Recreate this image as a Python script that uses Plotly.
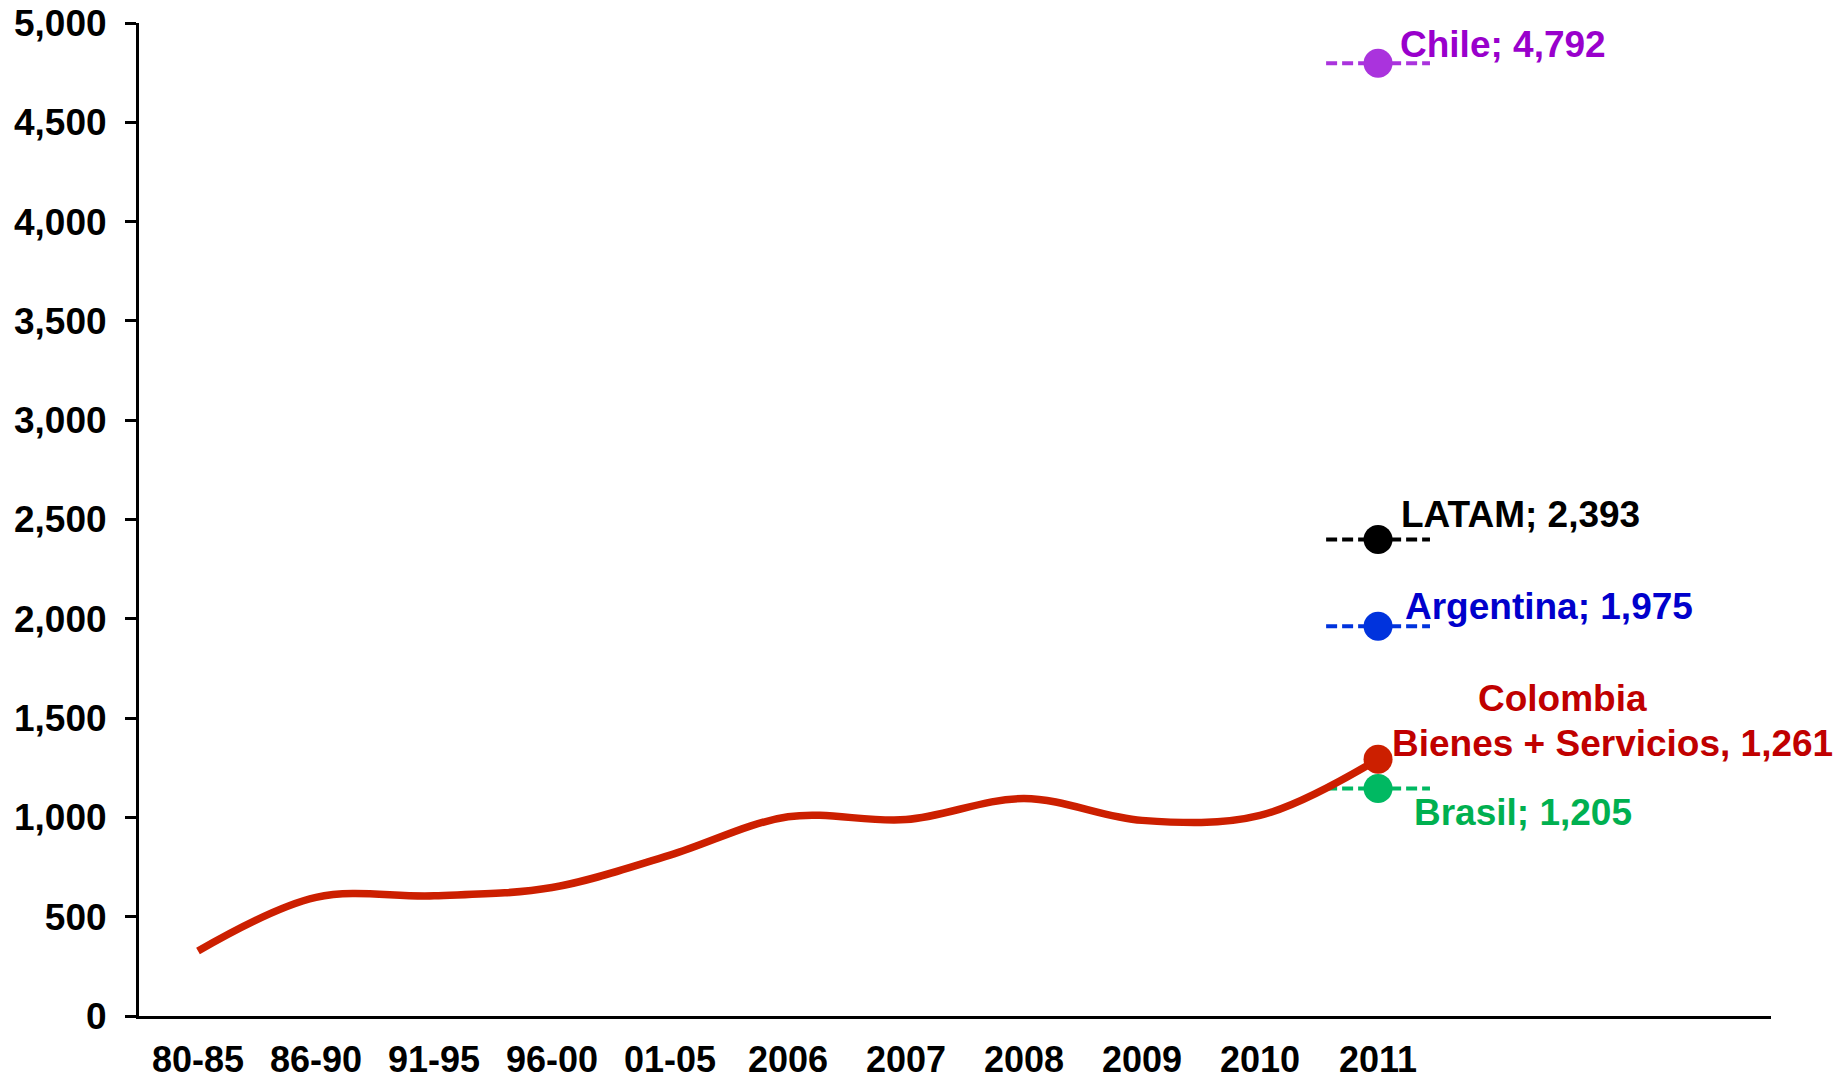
import plotly.graph_objects as go

# Colombia series (Bienes + Servicios)
periods = ["80-85", "86-90", "91-95", "96-00", "01-05", "2006", "2007",
           "2008", "2009", "2010", "2011"]
colombia = [327, 597, 605, 647, 810, 1003, 989, 1095, 985, 1010, 1293]

# 2011 comparison points
countries = ["Chile", "LATAM", "Argentina", "Brasil"]
country_values = [4797, 2399, 1963, 1145]
country_labels = ["Chile; 4,792", "LATAM; 2,393", "Argentina; 1,975", "Brasil; 1,205"]
country_colors = ["#AA33DD", "#000000", "#0033DD", "#00B962"]
label_colors = ["#9900CC", "#000000", "#0000CC", "#00B050"]
label_shifts = [(20, 19), (21, 25), (25, 20), (34, -24)]

y_ticks = [0, 500, 1000, 1500, 2000, 2500, 3000, 3500, 4000, 4500, 5000]

FONT = "Liberation Sans, Arial, sans-serif"
RED_LINE = "#CC1F00"
RED_TEXT = "#C00000"

x_idx = list(range(len(periods)))
last = x_idx[-1]

fig = go.Figure()

# reference dashes + markers for the other countries
for name, val, col in zip(countries, country_values, country_colors):
    fig.add_trace(go.Scatter(
        x=[last - 0.44, last + 0.44], y=[val, val], mode="lines",
        line=dict(color=col, width=4, dash="11px,5px"),
        hoverinfo="skip", showlegend=False,
    ))
    fig.add_trace(go.Scatter(
        x=[last], y=[val], mode="markers", name=name,
        marker=dict(color=col, size=29), showlegend=False,
    ))

fig.add_trace(go.Scatter(
    x=x_idx, y=colombia, mode="lines", name="Colombia",
    line=dict(color=RED_LINE, width=7.5, shape="spline", smoothing=1.0),
    showlegend=False,
))
fig.add_trace(go.Scatter(
    x=[last], y=[colombia[-1]], mode="markers",
    marker=dict(color=RED_LINE, size=29), showlegend=False,
))

for lab, val, col, (dx, dy) in zip(country_labels, country_values, label_colors, label_shifts):
    fig.add_annotation(
        x=last, y=val, text=lab, showarrow=False,
        xanchor="left", yanchor="middle", xshift=dx, yshift=dy,
        font=dict(family=FONT, size=37, color=col, weight="bold"),
    )

fig.add_annotation(
    x=last, y=colombia[-1], text="Colombia", showarrow=False,
    xanchor="center", yanchor="middle", xshift=184, yshift=61,
    font=dict(family=FONT, size=37, color=RED_TEXT, weight="bold"),
)
fig.add_annotation(
    x=last, y=colombia[-1], text="Bienes + Servicios, 1,261", showarrow=False,
    xanchor="left", yanchor="middle", xshift=12, yshift=16,
    font=dict(family=FONT, size=37, color=RED_TEXT, weight="bold"),
)

fig.update_layout(
    width=1845, height=1080,
    margin=dict(l=139, r=74, t=23, b=64),
    plot_bgcolor="white", paper_bgcolor="white",
    font=dict(family=FONT, size=37, color="black", weight="bold"),
    xaxis=dict(
        range=[-0.5, 13.33], tickvals=x_idx, ticktext=periods,
        showgrid=False, zeroline=False, showline=True, automargin=False,
        linecolor="black", linewidth=3, ticks="",
        ticklabelstandoff=10, ticklabeloverflow="allow",
        tickfont=dict(family=FONT, size=36, color="black", weight="bold"),
    ),
    yaxis=dict(
        range=[0, 5000], tickvals=y_ticks, tickformat=",",
        showgrid=False, zeroline=False, showline=True, automargin=False,
        linecolor="black", linewidth=3, ticks="outside", ticklen=11,
        tickwidth=3, tickcolor="black", ticklabelstandoff=11,
        ticklabeloverflow="allow",
        tickfont=dict(family=FONT, size=37, color="black", weight="bold"),
    ),
)

# drop the default 8px page margin so the figure fills the window exactly
fig.write_html("out.html", config={"displayModeBar": False},
               post_script="document.body.style.margin = '0px';")
